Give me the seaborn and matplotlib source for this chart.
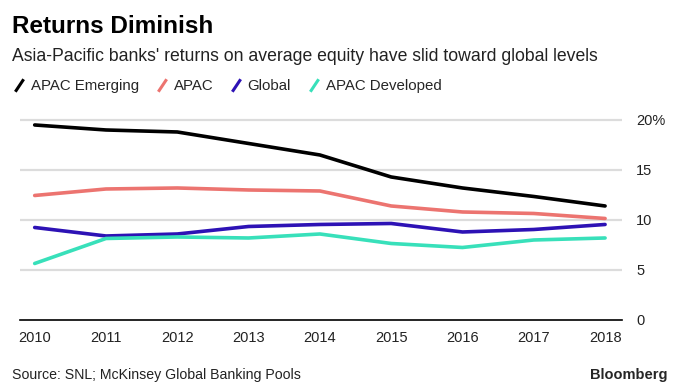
import pandas as pd
import matplotlib.pyplot as plt
import seaborn as sns
from matplotlib.lines import Line2D

years = [2010, 2011, 2012, 2013, 2014, 2015, 2016, 2017, 2018]
apac_emerging = [19.5, 19.0, 18.8, 17.65, 16.5, 14.3, 13.2, 12.35, 11.4]
apac = [12.45, 13.1, 13.2, 13.0, 12.9, 11.4, 10.8, 10.65, 10.15]
global_roe = [9.25, 8.4, 8.6, 9.35, 9.55, 9.65, 8.8, 9.05, 9.55]
apac_developed = [5.65, 8.15, 8.3, 8.2, 8.6, 7.65, 7.25, 8.0, 8.2]

series = ['APAC Emerging', 'APAC', 'Global', 'APAC Developed']
colors = ['#000000', '#ec7470', '#2d12b5', '#38e0ba']
y_ticks = [0, 5, 10, 15, 20]
y_labels = ['0', '5', '10', '15', '20%']

df = pd.DataFrame({
    'year': years * 4,
    'value': apac_emerging + apac + global_roe + apac_developed,
    'series': sum([[s] * len(years) for s in series], []),
})

sns.set_style('white')
plt.rcParams['font.family'] = ['Liberation Sans', 'DejaVu Sans']

fig = plt.figure(figsize=(6.8, 3.89), dpi=100)
fig.patch.set_facecolor('white')
ax = fig.add_axes([0.029, 0.1774, 0.886, 0.5296])

for y in y_ticks[1:]:
    ax.axhline(y, color='#dcdcdc', lw=1.6, zorder=0)

sns.lineplot(data=df, x='year', y='value', hue='series', hue_order=series,
             palette=colors, linewidth=2.6, ax=ax, legend=False)

ax.set_xlim(2009.79, 2018.24)
ax.set_ylim(0, 20.6)
ax.set_xticks(years)
ax.set_xticklabels([str(y) for y in years], fontsize=10.5)
ax.set_yticks(y_ticks)
ax.set_yticklabels(y_labels, fontsize=10.5)
ax.yaxis.tick_right()
ax.tick_params(axis='y', length=0, pad=10, labelcolor='#222222')
ax.tick_params(axis='x', length=5, width=1, color='black', pad=3, labelcolor='#222222')
ax.set_xlabel('')
ax.set_ylabel('')
for side in ['top', 'left', 'right']:
    ax.spines[side].set_visible(False)
ax.spines['bottom'].set_color('black')
ax.spines['bottom'].set_linewidth(1.2)

fig.text(0.018, 0.933, 'Returns Diminish', fontsize=17.5, fontweight='bold', va='center', color='black')
fig.text(0.018, 0.855, "Asia-Pacific banks' returns on average equity have slid toward global levels",
         fontsize=12.7, va='center', color='#222222')

handles = [Line2D([], [], marker=[(-1, -1.5), (1, 1.5)], linestyle='None',
                  markersize=9, markeredgewidth=2.2, color=c) for c in colors]
fig.legend(handles, series, loc='center left', bbox_to_anchor=(0.008, 0.778),
           ncol=4, frameon=False, fontsize=10.8, handlelength=1.0,
           handletextpad=0.3, columnspacing=1.0, borderaxespad=0)

fig.text(0.018, 0.035, 'Source: SNL; McKinsey Global Banking Pools', fontsize=10.2, va='center', color='#222222')
fig.text(0.982, 0.035, 'Bloomberg', fontsize=10.5, fontweight='bold', va='center', ha='right')

fig.savefig('out.png', dpi=100, facecolor='white')
